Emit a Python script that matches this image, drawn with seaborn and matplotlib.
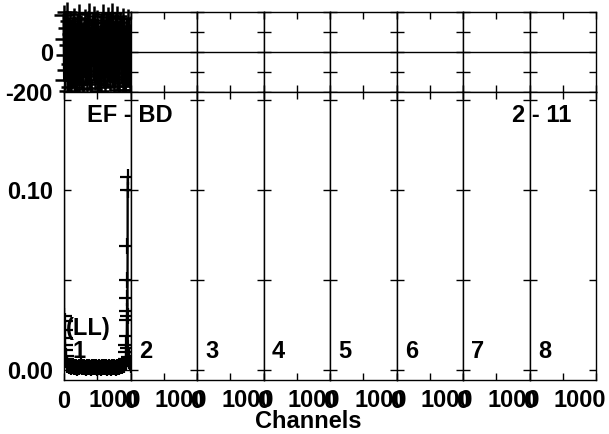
import numpy as np
import seaborn as sns
import matplotlib
matplotlib.use("Agg")
import matplotlib.pyplot as plt
import matplotlib.transforms as mtransforms

# Spectrum (panel 1 only), channel -> normalised counts
spec_channels = [0, 3, 6, 9, 12, 15, 18, 22, 26, 30, 40,
                 50, 75, 100, 125, 150, 175, 200, 225, 250, 275,
                 300, 325, 350, 375, 400, 425, 450, 475, 500, 525,
                 550, 575, 600, 625, 650, 675, 700, 725, 750, 775,
                 800, 825, 850, 875, 900,
                 925, 930, 934, 937, 940, 943, 946, 949, 951, 953,
                 955, 957, 960, 965, 972, 980, 990, 1000]
spec_values = [0.40, 0.18, 0.030, 0.027, 0.022, 0.018, 0.014, 0.011, 0.008, 0.006, 0.004,
               0.0030, 0.0024, 0.0018, 0.0021, 0.0015, 0.0019, 0.0013, 0.0017, 0.0020, 0.0014,
               0.0016, 0.0012, 0.0018, 0.0015, 0.0011, 0.0017, 0.0014, 0.0019, 0.0013, 0.0016,
               0.0012, 0.0015, 0.0018, 0.0014, 0.0011, 0.0016, 0.0013, 0.0017, 0.0015, 0.0012,
               0.0018, 0.0016, 0.0020, 0.0024, 0.0030,
               0.004, 0.006, 0.010, 0.014, 0.019, 0.028, 0.033, 0.040, 0.050, 0.069,
               0.100, 0.107, 0.030, 0.012, 0.007, 0.005, 0.004, 0.003]

# Residuals (panel 1 only), every 10 channels
resid_channels = np.arange(0, 1001, 10)
resid_values = [185, -142, 63, -17, 198, -88, 121, -193, 34, 156,
                -61, -175, 92, 12, -130, 171, -45, 78, -199, 140,
                -8, 55, -160, 190, -102, 27, 133, -70, -185, 102,
                48, -122, 166, -33, 81, -150, 7, 196, -95, 58,
                -180, 117, -20, 145, -66, 180, -138, 24, -112, 88,
                160, -52, -197, 70, 3, -158, 128, -84, 188, -40,
                96, -176, 41, 152, -118, -14, 175, -90, 66, -146,
                110, -28, 194, -105, 16, -168, 138, 50, -60, 182,
                -133, 85, -188, 28, 148, -76, 118, -10, -155, 170,
                -36, 74, -192, 105, 38, -125, 163, -48, 90, -170,
                130]

panel_labels = ["1", "2", "3", "4", "5", "6", "7", "8"]

sns.set_style("ticks")
plt.rcParams['font.family'] = ['Liberation Sans', 'DejaVu Sans']
plt.rcParams['font.weight'] = 'bold'
plt.rcParams['font.size'] = 17
for k in ('text.color', 'axes.labelcolor', 'xtick.color', 'ytick.color', 'axes.edgecolor'):
    plt.rcParams[k] = 'black'

W, H = 609, 434
fig = plt.figure(figsize=(W / 100, H / 100), dpi=100)

left, right = 64, 596
pw = (right - left) / 8
top_axes, bot_axes = [], []
for i in range(8):
    x0 = (left + i * pw) / W
    at = fig.add_axes([x0, 1 - 92 / H, pw / W, 80 / H])
    ab = fig.add_axes([x0, 1 - 380 / H, pw / W, 288 / H])
    top_axes.append(at)
    bot_axes.append(ab)

shift = mtransforms.ScaledTranslation(-16 / 100, 0, fig.dpi_scale_trans)

for i, (at, ab) in enumerate(zip(top_axes, bot_axes)):
    for ax in (at, ab):
        ax.set_xlim(0, 1000)
        ax.set_xticks([0, 500, 1000])
        ax.tick_params(direction='in', length=5, width=1, top=True, right=True,
                       colors='black', labelsize=17)
        for s in ax.spines.values():
            s.set_linewidth(1)
            s.set_visible(True)
    at.set_ylim(-200, 200)
    at.set_yticks([-200, -100, 0, 100, 200])
    at.axhline(0, color='black', lw=1)
    at.tick_params(labelbottom=False)
    ab.set_ylim(-0.00556, 0.15444)
    ab.set_yticks([0, 0.05, 0.10, 0.15])
    ab.set_xticklabels(['0', '', ''])
    ab.tick_params(axis='x', pad=7)
    # the upper-end label sits a little left of its tick
    trans = mtransforms.blended_transform_factory(ab.transData, ab.transAxes) + shift
    ab.text(1000, -9 / 288, "1000", transform=trans, ha='center', va='top',
            fontsize=17, fontweight='bold')
    if i == 0:
        at.set_yticklabels(['-200', '', '0', '', ''])
        ab.set_yticklabels(['0.00', '', '0.10', ''])
        at.tick_params(axis='y', pad=8)
        ab.tick_params(axis='y', pad=8)
    else:
        at.tick_params(labelleft=False)
        ab.tick_params(labelleft=False)
    ab.text(225, 0.010, panel_labels[i], ha='center', va='center',
            fontsize=17, fontweight='bold')

# data in panel 1
sns.lineplot(x=resid_channels, y=resid_values, ax=top_axes[0], color='black',
             marker='+', markersize=14, markeredgewidth=1.8, markeredgecolor='black',
             linewidth=2.4, estimator=None, sort=False, clip_on=False)
sns.lineplot(x=spec_channels, y=spec_values, ax=bot_axes[0], color='black',
             marker='+', markersize=11, markeredgewidth=1.6, markeredgecolor='black',
             linewidth=1.2, estimator=None, sort=False)

bot_axes[0].text(361, 0.0228, "(LL)", ha='center', va='center',
                 fontsize=17, fontweight='bold')
fig.text(129.5 / W, 1 - 115 / H, "EF - BD", ha='center', va='center',
         fontsize=17, fontweight='bold')
fig.text(542 / W, 1 - 116 / H, "2 - 11", ha='center', va='center',
         fontsize=17, fontweight='bold')
fig.text(308 / W, 1 - 422 / H, "Channels", ha='center', va='center',
         fontsize=17, fontweight='bold')

fig.savefig("out.png", dpi=100)
